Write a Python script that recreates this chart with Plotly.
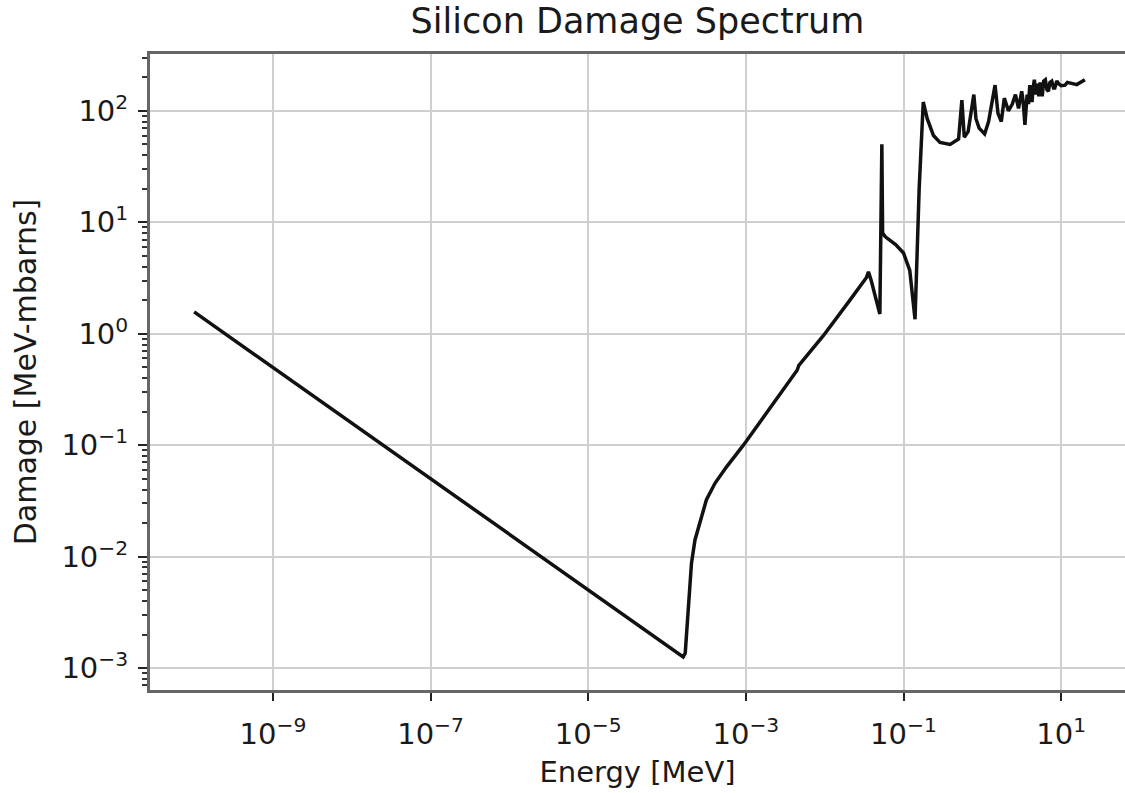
import plotly.graph_objects as go

# Energy [MeV] and damage [MeV-mbarns]
energy_mev = [
    1.0e-10, 1.0e-8, 1.0e-6, 1.0e-4, 1.6e-4,
    1.70e-4, 1.86e-4, 2.04e-4, 2.26e-4, 2.63e-4, 3.16e-4, 4.07e-4, 5.75e-4, 9.3e-4,
    4.47e-3, 4.7e-3, 9.5e-3, 2.09e-2, 3.39e-2, 3.59e-2, 3.89e-2, 5.01e-2, 5.31e-2, 5.43e-2,
    5.89e-2, 7.94e-2, 0.100, 0.120, 0.135, 0.140, 0.158, 0.178, 0.20, 0.24, 0.29,
    0.39, 0.50, 0.55, 0.59, 0.66, 0.78, 0.83, 0.91, 1.07, 1.2, 1.45, 1.58, 1.74,
    1.9, 2.14, 2.4, 2.63, 2.88, 3.16, 3.3, 3.47, 3.7, 3.85, 4.0, 4.27, 4.4, 4.57,
    4.8, 5.0, 5.2, 5.4, 5.6, 5.75, 6.0, 6.3, 6.6, 6.9, 7.2, 7.6, 8.0, 8.3, 8.8,
    9.3, 10.0, 11.2, 12.0, 13.2, 14.5, 15.8, 20.0,
]
damage_mevmb = [
    1.57, 0.157, 0.0157, 1.57e-3, 1.26e-3,
    1.36e-3, 3.55e-3, 8.7e-3, 0.0141, 0.020, 0.0324, 0.0457, 0.0646, 0.100,
    0.47, 0.52, 0.95, 2.0, 3.2, 3.6, 3.0, 1.5, 50.0, 8.0,
    7.4, 6.3, 5.3, 3.7, 1.7, 1.35, 20.0, 120.0, 85.0, 60.0, 52.0,
    50.0, 56.0, 125.0, 58.0, 65.0, 140.0, 85.0, 70.0, 62.0, 80.0, 170.0, 95.0, 80.0,
    130.0, 100.0, 115.0, 140.0, 105.0, 150.0, 120.0, 75.0, 140.0, 115.0, 170.0, 120.0, 160.0, 190.0,
    140.0, 175.0, 135.0, 180.0, 150.0, 135.0, 185.0, 190.0, 155.0, 150.0, 180.0, 185.0, 160.0, 160.0, 185.0,
    175.0, 168.0, 170.0, 180.0, 178.0, 175.0, 172.0, 190.0,
]

x_tick_vals = [1e-9, 1e-7, 1e-5, 1e-3, 1e-1, 1e1]
x_tick_text = ["10<sup>−9</sup>", "10<sup>−7</sup>", "10<sup>−5</sup>",
               "10<sup>−3</sup>", "10<sup>−1</sup>", "10<sup>1</sup>"]
y_tick_vals = [1e-3, 1e-2, 1e-1, 1e0, 1e1, 1e2]
y_tick_text = ["10<sup>−3</sup>", "10<sup>−2</sup>", "10<sup>−1</sup>",
               "10<sup>0</sup>", "10<sup>1</sup>", "10<sup>2</sup>"]

y_minor = []
for p in range(-4, 3):
    for m in range(2, 10):
        y_minor.append(m * 10.0 ** p)

FONT = "DejaVu Sans"
TXT = "#1a1a1a"

fig = go.Figure()
fig.add_trace(go.Scatter(
    x=energy_mev, y=damage_mevmb, mode="lines",
    line=dict(color="#111111", width=3.5), showlegend=False,
))

fig.update_layout(
    width=1125, height=793,
    margin=dict(l=150, r=0, t=54, b=103),
    paper_bgcolor="white", plot_bgcolor="white",
    font=dict(family=FONT, color=TXT),
    title=dict(text="Silicon Damage Spectrum", x=0.5, xref="paper",
               y=1 - 21 / 793, yref="container", yanchor="middle",
               font=dict(family=FONT, size=35, color=TXT)),
)

fig.update_xaxes(
    type="log", range=[-10.56, 1.81],
    tickvals=x_tick_vals, ticktext=x_tick_text,
    tickfont=dict(family=FONT, size=29, color=TXT),
    ticks="outside", ticklen=8, tickwidth=2, tickcolor="#222222",
    ticklabelstandoff=8,
    showgrid=True, gridcolor="#cfcfcf", gridwidth=2,
    showline=True, linecolor="#666666", linewidth=3, mirror=True,
    zeroline=False,
    title=dict(text="Energy [MeV]", font=dict(family=FONT, size=29, color=TXT), standoff=12),
)
fig.update_yaxes(
    type="log", range=[-3.197, 2.51],
    tickvals=y_tick_vals, ticktext=y_tick_text,
    tickfont=dict(family=FONT, size=29, color=TXT),
    ticks="outside", ticklen=9, tickwidth=2, tickcolor="#222222",
    ticklabelstandoff=4,
    minor=dict(tickvals=y_minor, ticks="outside", ticklen=5, tickwidth=1.5,
               tickcolor="#333333", showgrid=False),
    showgrid=True, gridcolor="#cfcfcf", gridwidth=2,
    showline=True, linecolor="#666666", linewidth=3, mirror=False,
    zeroline=False,
    title=dict(text="Damage [MeV-mbarns]", font=dict(family=FONT, size=30, color=TXT), standoff=16),
)

fig.write_html("out.html")
